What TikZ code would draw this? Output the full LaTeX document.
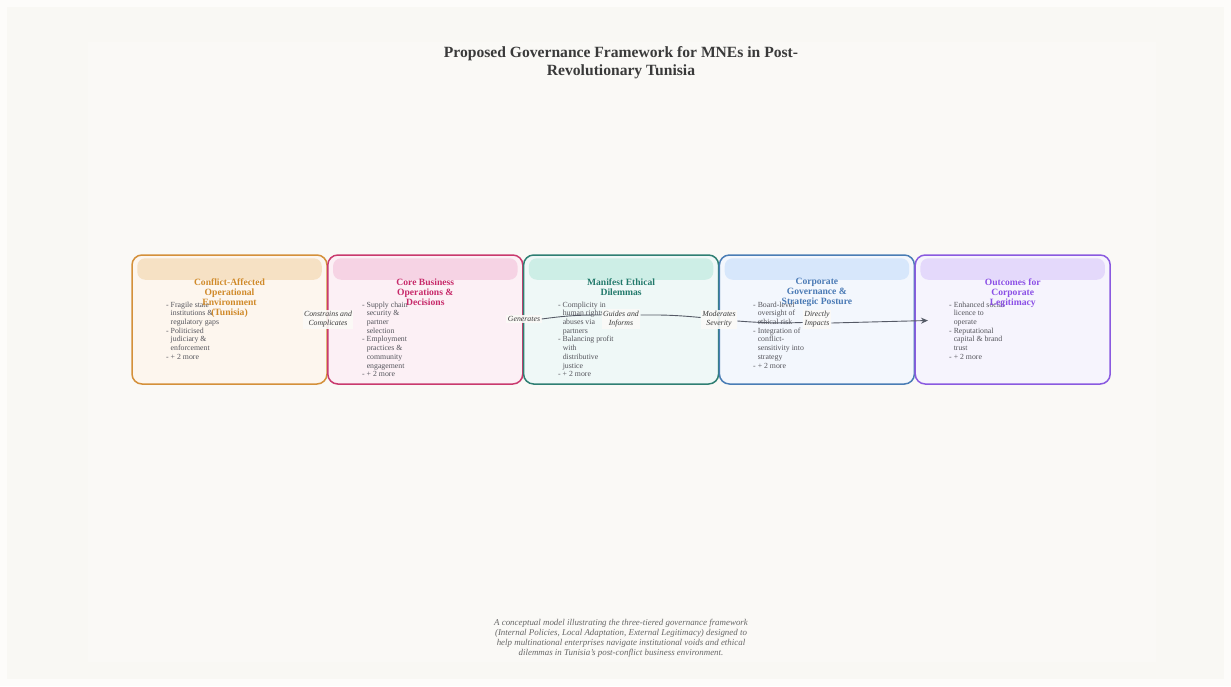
\documentclass[tikz,border=0pt]{standalone}
\usepackage{fontspec}
\setmainfont{Liberation Serif}
\usetikzlibrary{arrows.meta,calc}

% page and panel tones
\definecolor{pagebg}{HTML}{FDFCFA}
\definecolor{outerbg}{HTML}{F9F8F4}
\definecolor{panelbg}{HTML}{FAF9F6}
\definecolor{ink}{HTML}{3A3A3A}
\definecolor{bodyink}{HTML}{55555C}
\definecolor{noteink}{HTML}{666666}
\definecolor{edgeink}{HTML}{555A66}
\definecolor{labelbg}{HTML}{FBFAF7}
% stage colours: line, fill, header band, title
\definecolor{oLine}{HTML}{D4903A}\definecolor{oFill}{HTML}{FDF6EE}\definecolor{oHead}{HTML}{F6E1C4}\definecolor{oText}{HTML}{D08A2A}
\definecolor{pLine}{HTML}{C93A6E}\definecolor{pFill}{HTML}{FCF0F5}\definecolor{pHead}{HTML}{F6D3E4}\definecolor{pText}{HTML}{C72A6A}
\definecolor{tLine}{HTML}{2F7F73}\definecolor{tFill}{HTML}{EFF8F7}\definecolor{tHead}{HTML}{CDEEE6}\definecolor{tText}{HTML}{237A6C}
\definecolor{bLine}{HTML}{4A7DB5}\definecolor{bFill}{HTML}{F3F7FD}\definecolor{bHead}{HTML}{D7E7FB}\definecolor{bText}{HTML}{4A7AB5}
\definecolor{vLine}{HTML}{8A5AE0}\definecolor{vFill}{HTML}{F6F4FD}\definecolor{vHead}{HTML}{E4D9FB}\definecolor{vText}{HTML}{8B4FE6}

\newcommand{\hang}{\hphantom{-\ }}

\tikzset{
  stagebox/.style={rectangle, rounded corners=10pt, line width=1.5pt,
    minimum width=195pt, minimum height=129pt, inner sep=0pt},
  headband/.style={rounded corners=8pt},
  stagetitle/.style={anchor=north, inner sep=0pt, align=center,
    font=\bfseries\fontsize{9.6}{10}\selectfont},
  bullets/.style={anchor=north west, inner sep=0pt, align=left, text=bodyink,
    font=\fontsize{7.8}{8.7}\selectfont},
  edgelabel/.style={fill=labelbg, fill opacity=0.9, text opacity=1, inner sep=1.5pt,
    align=center, text=ink, font=\itshape\fontsize{7.8}{9}\selectfont},
  link/.style={draw=edgeink, line width=0.9pt},
}

\begin{document}
\begin{tikzpicture}[x=1pt,y=-1pt]
\useasboundingbox (0,0) rectangle (1231,686);
\fill[pagebg] (0,0) rectangle (1231,686);
\fill[outerbg] (7,7) rectangle (1224,679);
\fill[panelbg] (88,42) rectangle (1156,662);

% title
\node[anchor=north, inner sep=0pt, align=center, text=ink,
      font=\bfseries\fontsize{15.6}{18}\selectfont] (title) at (621,46.5)
  {Proposed Governance Framework for MNEs in Post-\\Revolutionary Tunisia};

% stage boxes
\node[stagebox, draw=oLine, fill=oFill] (b1) at (229.5,319.5) {};
\node[stagebox, draw=pLine, fill=pFill] (b2) at (425.3,319.5) {};
\node[stagebox, draw=tLine, fill=tFill] (b3) at (621.1,319.5) {};
\node[stagebox, draw=bLine, fill=bFill] (b4) at (816.9,319.5) {};
\node[stagebox, draw=vLine, fill=vFill] (b5) at (1012.7,319.5) {};

% header bands
\fill[headband, oHead] ($(b1.north west)+(6,4)$) rectangle ($(b1.north east)+(-6,25.5)$);
\fill[headband, pHead] ($(b2.north west)+(6,4)$) rectangle ($(b2.north east)+(-6,25.5)$);
\fill[headband, tHead] ($(b3.north west)+(6,4)$) rectangle ($(b3.north east)+(-6,25.5)$);
\fill[headband, bHead] ($(b4.north west)+(6,4)$) rectangle ($(b4.north east)+(-6,25.5)$);
\fill[headband, vHead] ($(b5.north west)+(6,4)$) rectangle ($(b5.north east)+(-6,25.5)$);

% bullet lists
\node[bullets] (l1) at (166,301.5) {- Fragile state\\\hang institutions \&\\\hang regulatory gaps\\- Politicised\\\hang judiciary \&\\\hang enforcement\\- + 2 more};
\node[bullets] (l2) at (362,301.5) {- Supply chain\\\hang security \&\\\hang partner\\\hang selection\\- Employment\\\hang practices \&\\\hang community\\\hang engagement\\- + 2 more};
\node[bullets] (l3) at (558,301.5) {- Complicity in\\\hang human rights\\\hang abuses via\\\hang partners\\- Balancing profit\\\hang with\\\hang distributive\\\hang justice\\- + 2 more};
\node[bullets] (l4) at (753,301.5) {- Board-level\\\hang oversight of\\\hang ethical risk\\- Integration of\\\hang conflict-\\\hang sensitivity into\\\hang strategy\\- + 2 more};
\node[bullets] (l5) at (949,301.5) {- Enhanced social\\\hang licence to\\\hang operate\\- Reputational\\\hang capital \& brand\\\hang trust\\- + 2 more};

% stage titles
\node[stagetitle, text=oText] (t1) at (229.5,278.3) {Conflict-Affected\\Operational\\Environment\\(Tunisia)};
\node[stagetitle, text=pText] (t2) at (425.3,278.3) {Core Business\\Operations \&\\Decisions};
\node[stagetitle, text=tText] (t3) at (621.1,278.3) {Manifest Ethical\\Dilemmas};
\node[stagetitle, text=bText] (t4) at (816.9,278.3) {Corporate\\Governance \&\\Strategic Posture};
\node[stagetitle, text=vText] (t5) at (1012.7,278.3) {Outcomes for\\Corporate\\Legitimacy};

% relation labels
\node[edgelabel] (e1) at (328,319.5) {Constrains and\\Complicates};
\node[edgelabel] (e2) at (524,319) {Generates};
\node[edgelabel] (e3) at (621,319) {Guides and\\Informs};
\node[edgelabel] (e4) at (719,319.5) {Moderates\\Severity};
\node[edgelabel] (e5) at (817,319.5) {Directly\\Impacts};
\coordinate (tip) at (928,320.5);

% relation path
\draw[link] (e2.east) to[bend left=4] ($(e3.west)+(0,-4)$);
\draw[link] ($(e3.east)+(0,-4)$) to[bend left=3] ($(e4.west)+(0,-2)$);
\draw[link] ($(e4.east)+(0,1.5)$) to[bend right=3] ($(e5.west)+(0,3)$);
\draw[link, -{Stealth[length=7pt,width=6pt]}] ($(e5.east)+(0,3.5)$) -- (tip);

% caption
\node[anchor=north, inner sep=0pt, align=center, text=noteink,
      font=\itshape\fontsize{8.9}{9.8}\selectfont] (note) at (621,619.5)
  {A conceptual model illustrating the three-tiered governance framework\\(Internal Policies, Local Adaptation, External Legitimacy) designed to\\help multinational enterprises navigate institutional voids and ethical\\dilemmas in Tunisia's post-conflict business environment.};
\end{tikzpicture}
\end{document}
